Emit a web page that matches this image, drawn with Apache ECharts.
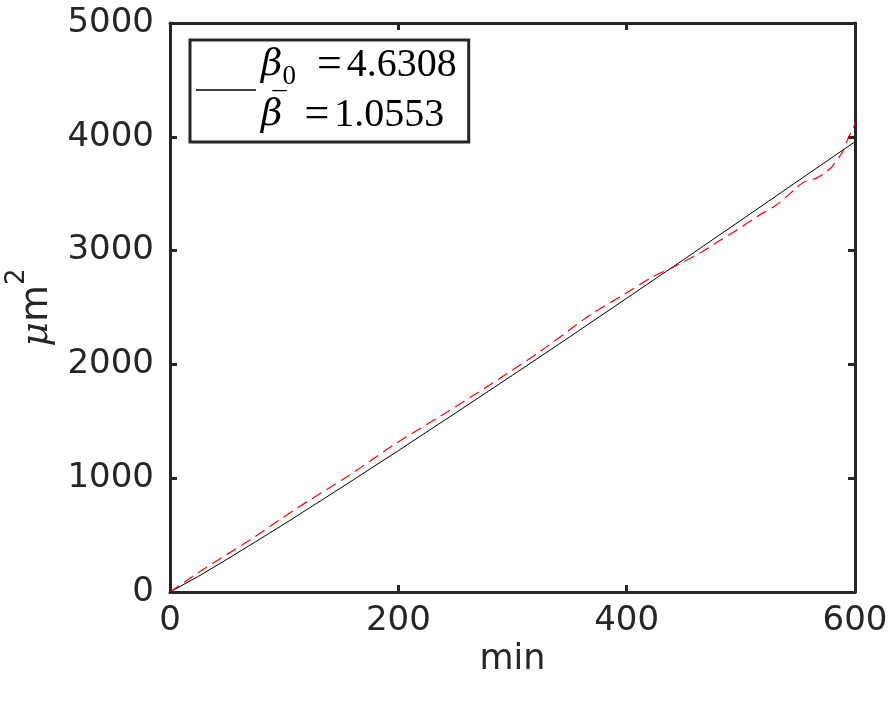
<!DOCTYPE html>
<html>
<head>
<meta charset="utf-8">
<script src="https://cdn.jsdelivr.net/npm/echarts@6/dist/echarts.min.js"></script>
<style>
html,body{margin:0;padding:0;background:#fff;}
#chart{width:891px;height:703px;}
</style>
</head>
<body>
<div id="chart"></div>
<script>
// Fitted curve (black, solid)
const fitX = [0, 25, 50, 75, 100, 150, 200, 250, 300, 350, 400, 450, 500, 550, 600];
const fitY = [0, 138, 288, 442, 597, 917, 1242, 1572, 1905, 2241, 2581, 2922, 3266, 3612, 3957];
// Measured area (red, dashed)
const measX = [0, 26, 70, 111, 155, 198, 236, 280, 324, 368, 397, 423, 440, 467, 482, 499, 514, 531, 540, 555, 566, 575, 580, 590, 594, 599, 600];
const measY = [0, 178, 457, 735, 1013, 1306, 1540, 1819, 2112, 2434, 2610, 2771, 2850, 2995, 3090, 3196, 3298, 3400, 3474, 3600, 3635, 3694, 3737, 3884, 3987, 4089, 4130];
const xTicks = [0, 200, 400, 600];
const yTicks = [0, 1000, 2000, 3000, 4000, 5000];
const legendLines = ['4.6308', '1.0553'];

const axisColor = '#262626';
const chart = echarts.init(document.getElementById('chart'));
const xAx = (pos, showLabel) => ({
  type: 'value', position: pos, min: xTicks[0], max: xTicks[xTicks.length - 1], interval: 200,
  axisLine: { show: true, onZero: false, lineStyle: { color: axisColor, width: 3 } },
  axisTick: { show: true, inside: true, length: 7, lineStyle: { color: axisColor, width: 3 } },
  splitLine: { show: false },
  axisLabel: { show: showLabel, fontSize: 34, color: axisColor, fontFamily: 'DejaVu Sans', margin: 12, formatter: v => String(v) }
});
const yAx = (pos, showLabel) => ({
  type: 'value', position: pos, min: yTicks[0], max: yTicks[yTicks.length - 1], interval: 1000,
  axisLine: { show: true, onZero: false, lineStyle: { color: axisColor, width: 3 } },
  axisTick: { show: true, inside: true, length: 7, lineStyle: { color: axisColor, width: 3 } },
  splitLine: { show: false },
  axisLabel: { show: showLabel, fontSize: 34, color: axisColor, fontFamily: 'DejaVu Sans', margin: 16, formatter: v => String(v) }
});
const xMain = xAx('bottom', true);
xMain.name = 'min';
xMain.nameLocation = 'middle';
xMain.nameGap = 37;
xMain.nameTextStyle = { fontSize: 35, color: axisColor, fontFamily: 'DejaVu Sans' };
const yMain = yAx('left', true);
yMain.name = '{mu|μ}{m|m}{sup|2}';
yMain.nameLocation = 'middle';
yMain.nameRotate = 90;
yMain.nameGap = 102;
yMain.nameTextStyle = {
  color: axisColor,
  rich: {
    mu: { fontSize: 38, fontFamily: 'DejaVu Serif', fontStyle: 'italic', color: axisColor, verticalAlign: 'bottom', lineHeight: 52 },
    m: { fontSize: 38, fontFamily: 'DejaVu Sans', color: axisColor, verticalAlign: 'bottom', lineHeight: 52 },
    sup: { fontSize: 26, fontFamily: 'DejaVu Sans', color: axisColor, verticalAlign: 'top', lineHeight: 52 }
  }
};

chart.setOption({
  animation: false,
  backgroundColor: '#ffffff',
  grid: { left: 170, right: 36, top: 23, bottom: 111, containLabel: false, outerBoundsMode: 'none' },
  xAxis: [xMain, xAx('top', false)],
  yAxis: [yMain, yAx('right', false)],
  legend: {
    show: true,
    data: [{ name: 'fit', icon: 'rect' }],
    left: 190, top: 40,
    orient: 'vertical',
    backgroundColor: '#ffffff',
    borderColor: axisColor,
    borderWidth: 3,
    borderRadius: 0,
    padding: [3, 12, 5, 6],
    itemWidth: 60,
    itemHeight: 1.4,
    itemStyle: { color: '#000000' },
    formatter: function () {
      return '{b|β}{s|0}{e|=}{n|' + legendLines[0] + '}\n{b|β}{mac|\u00AF}{e2|=}{n|' + legendLines[1] + '}';
    },
    textStyle: {
      rich: {
        b: { fontSize: 37, fontFamily: 'DejaVu Serif', fontStyle: 'italic', color: '#000', lineHeight: 50 },
        mac: { fontSize: 28, fontFamily: 'Liberation Serif', color: '#000', lineHeight: 20, verticalAlign: 'top', width: 1, padding: [0, 0, 0, -10] },
        s: { fontSize: 27, fontFamily: 'Liberation Serif', color: '#000', lineHeight: 50, verticalAlign: 'bottom', padding: [0, 21, 0, 0] },
        e: { fontSize: 44, fontFamily: 'Liberation Serif', color: '#000', lineHeight: 50, padding: [0, 5, 0, 0] },
        e2: { fontSize: 44, fontFamily: 'Liberation Serif', color: '#000', lineHeight: 50, padding: [0, 5, 0, 31] },
        n: { fontSize: 40, fontFamily: 'Liberation Serif', color: '#000', lineHeight: 50 }
      }
    }
  },
  series: [
    {
      name: 'measured', type: 'line', xAxisIndex: 0, yAxisIndex: 0,
      data: measX.map((x, i) => [x, measY[i]]),
      showSymbol: false, symbol: 'none', smooth: 0.3,
      lineStyle: { color: '#ff0000', width: 1.2, type: [11, 6] },
      z: 3
    },
    {
      name: 'fit', type: 'line', xAxisIndex: 0, yAxisIndex: 0,
      data: fitX.map((x, i) => [x, fitY[i]]),
      showSymbol: false, symbol: 'none', smooth: false,
      lineStyle: { color: '#000000', width: 1 },
      itemStyle: { color: '#000000' },
      z: 2
    }
  ]
});
</script>
</body>
</html>
